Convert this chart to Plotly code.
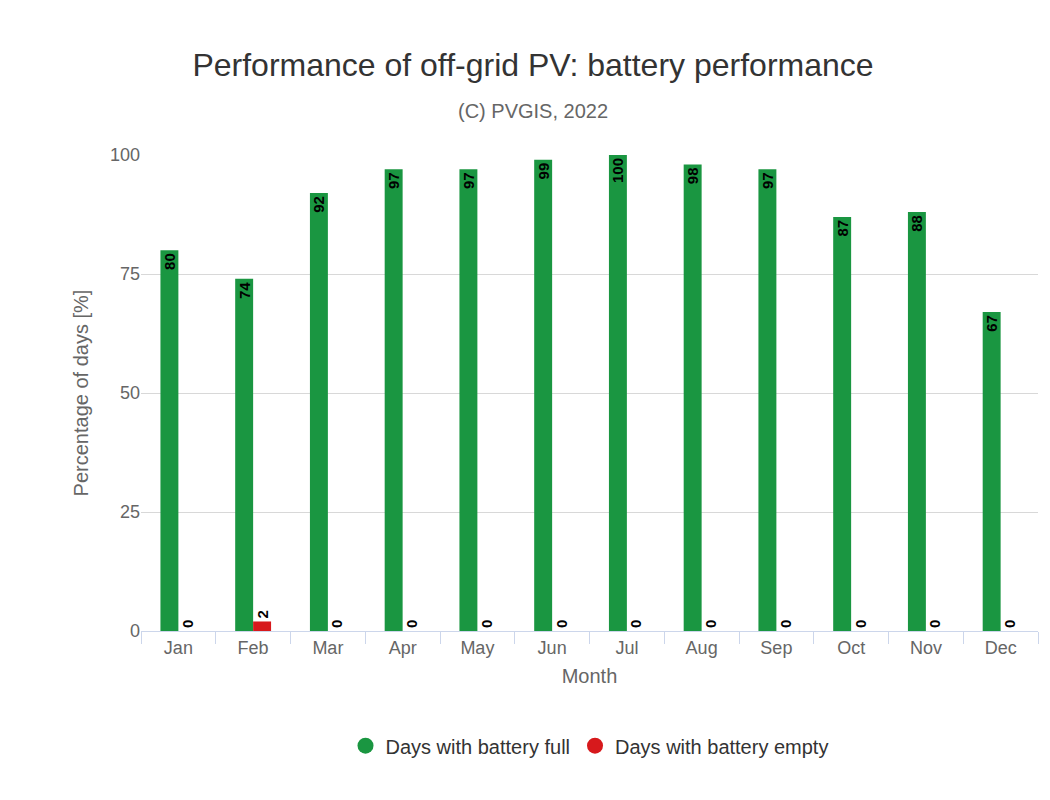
import plotly.graph_objects as go

months = ["Jan", "Feb", "Mar", "Apr", "May", "Jun", "Jul", "Aug", "Sep", "Oct", "Nov", "Dec"]
days_full = [80, 74, 92, 97, 97, 99, 100, 98, 97, 87, 88, 67]
days_empty = [0, 2, 0, 0, 0, 0, 0, 0, 0, 0, 0, 0]

GREEN = "#1a9641"
RED = "#d7191c"
label_font = dict(family="Liberation Sans, Arial", size=15, color="black")

fig = go.Figure()
fig.add_trace(go.Bar(
    x=months, y=days_full, name="Days with battery full", showlegend=False,
    marker=dict(color=GREEN, line=dict(width=0)),
    text=[f"<b>{v}</b>" for v in days_full], textposition="inside",
    insidetextanchor="end", constraintext="none",
    textangle=-90, textfont=label_font, cliponaxis=False,
))
fig.add_trace(go.Bar(
    x=months, y=days_empty, name="Days with battery empty", showlegend=False,
    marker=dict(color=RED, line=dict(width=0)),
    text=[f"<b>{v}</b>" for v in days_empty], textposition="outside",
    constraintext="none",
    textangle=-90, textfont=label_font, cliponaxis=False,
))
# legend entries with round markers
for name, color in [("Days with battery full", GREEN), ("Days with battery empty", RED)]:
    fig.add_trace(go.Scatter(
        x=[None], y=[None], mode="markers", name=name,
        marker=dict(color=color, size=22, symbol="circle"),
    ))

fig.update_layout(
    width=1050, height=800,
    paper_bgcolor="white", plot_bgcolor="white",
    font=dict(family="Liberation Sans, Arial", color="#666666", size=18),
    margin=dict(l=133, r=20, t=147, b=177),
    barmode="group", bargap=0.52, bargroupgap=0,
    title=dict(
        text="Performance of off-grid PV: battery performance"
             "<br><span style='font-size:20px;color:#666666'>(C) PVGIS, 2022</span>",
        x=0.5, xanchor="center", y=0.915, yanchor="top",
        font=dict(size=32, color="#333333"),
    ),
    xaxis=dict(
        title=dict(text="Month", font=dict(size=20, color="#666666"), standoff=12),
        showline=True, linecolor="#ccd6eb", linewidth=1, automargin=False,
        ticks="outside", tickson="boundaries", ticklen=12, tickcolor="#ccd6eb",
        tickfont=dict(size=18, color="#666666"),
    ),
    yaxis=dict(
        title=dict(text="Percentage of days [%]", font=dict(size=20, color="#666666")),
        range=[0, 100], tickvals=[0, 25, 50, 75, 100], automargin=False,
        gridcolor="#d8d8d8", gridwidth=1, zeroline=False,
        tickfont=dict(size=18, color="#666666"),
    ),
    legend=dict(
        orientation="h", x=0.5, xanchor="center", y=-0.2, yanchor="top",
        font=dict(size=20, color="#333333"),
    ),
)

fig.write_html("out.html")
